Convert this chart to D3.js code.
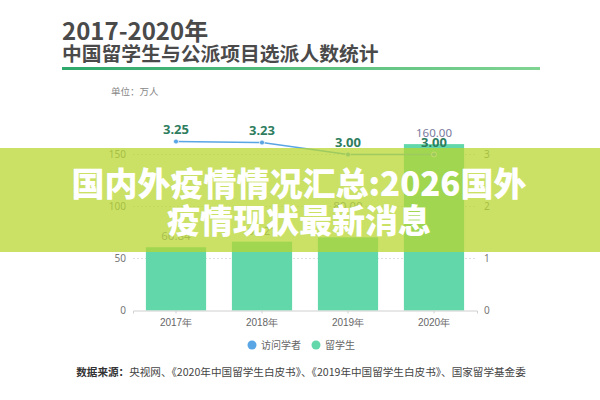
<!DOCTYPE html>
<html><head><meta charset="utf-8">
<script src="https://cdn.jsdelivr.net/npm/d3@7"></script>
<style>
html,body{margin:0;padding:0;background:#fff;}
svg{display:block;font-family:"Noto Sans CJK SC","Noto Sans",sans-serif;}
</style></head>
<body>
<svg id="c" width="600" height="400"></svg>
<script>
const categories = ["2017年","2018年","2019年","2020年"];
const students = [60.84, 66.21, 70.35, 160.00];
const studentLabels = ["60.84","66.21","80.00","160.00"];
const studentLabelAnchor = [60.84, 66.21, 90, 160];
const scholars = [3.25, 3.23, 3.00, 3.00];
const scholarLabels = ["3.25","3.23","3.00","3.00"];
const leftTicks = [0,50,100,150];
const rightTicks = [0,1,2,3];
const seriesNames = ["访问学者","留学生"];
const titleText = "2017-2020年";
const subtitleText = "中国留学生与公派项目选派人数统计";
const unitText = "单位：万人";
const sourceBold = "数据来源：";
const sourceText = "央视网、《2020年中国留学生白皮书》、《2019年中国留学生白皮书》、国家留学基金委";
const bannerLines = ["国内外疫情情况汇总:2026国外","疫情现状最新消息"];

const svg = d3.select("#c");
const barColor = "#62d7aa", lineColor = "#5aa5e4";

// header
svg.append("text").attr("x",62).attr("y",40).attr("font-size",24).attr("font-weight",700)
  .attr("fill","#4a4a4a").text(titleText);
svg.append("text").attr("x",62).attr("y",61).attr("font-size",19.8).attr("font-weight",700)
  .attr("fill","#4a4a4a").text(subtitleText);
const defs = svg.append("defs");
const g1 = defs.append("linearGradient").attr("id","gl");
g1.append("stop").attr("offset","0%").attr("stop-color","#2ea86b");
g1.append("stop").attr("offset","100%").attr("stop-color","#80d492");
svg.append("rect").attr("x",62).attr("y",67).attr("width",478).attr("height",3).attr("fill","url(#gl)");

svg.append("text").attr("x",111).attr("y",95).attr("font-size",9.5).attr("fill","#888").text(unitText);

// scales
const x = d3.scaleBand().domain(categories).range([133,477]).paddingInner(0.3).paddingOuter(0.15);
const yL = d3.scaleLinear().domain([0,200]).range([310.5,102.5]);
const yR = d3.scaleLinear().domain([0,4]).range([310.5,102.5]);

// grid
svg.append("g").selectAll("line").data(leftTicks.slice(1)).join("line")
  .attr("x1",133).attr("x2",477).attr("y1",d=>yL(d)).attr("y2",d=>yL(d))
  .attr("stroke","#e0e0e0").attr("stroke-dasharray","2,2");

// left axis
const axL = svg.append("g").attr("transform","translate(133,0)")
  .call(d3.axisLeft(yL).tickValues(leftTicks).tickFormat(d3.format("d")).tickSize(0).tickPadding(7));
axL.select(".domain").remove();
axL.selectAll("text").attr("font-size",10).attr("fill","#777").attr("font-family","'Noto Sans',sans-serif");
const axR = svg.append("g").attr("transform","translate(477,0)")
  .call(d3.axisRight(yR).tickValues(rightTicks).tickFormat(d3.format("d")).tickSize(0).tickPadding(7));
axR.select(".domain").remove();
axR.selectAll("text").attr("font-size",10).attr("fill","#777").attr("font-family","'Noto Sans',sans-serif");

// bars
svg.append("g").selectAll("rect").data(students).join("rect")
  .attr("x",(d,i)=>x(categories[i])).attr("width",x.bandwidth())
  .attr("y",d=>yL(d)).attr("height",d=>yL(0)-yL(d)).attr("fill",barColor);

// x axis
const axB = svg.append("g").attr("transform","translate(0,310.5)")
  .call(d3.axisBottom(x).tickSize(3).tickPadding(5));
axB.select(".domain").attr("stroke","#d0d0d0");
axB.selectAll(".tick line").attr("stroke","#d0d0d0");
axB.selectAll("text").attr("font-size",10).attr("fill","#666");

// bar labels
svg.append("g").selectAll("text").data(studentLabels).join("text")
  .attr("x",(d,i)=>x(categories[i])+x.bandwidth()/2).attr("y",(d,i)=>yL(studentLabelAnchor[i])-7)
  .attr("text-anchor","middle").attr("font-size",11.5).attr("fill","#7a7a9e")
  .attr("font-family","'Noto Sans',sans-serif").text(d=>d);

// line
const line = d3.line().x((d,i)=>x(categories[i])+x.bandwidth()/2).y(d=>yR(d));
svg.append("path").datum(scholars).attr("d",line).attr("fill","none").attr("stroke",lineColor).attr("stroke-width",1.5);
svg.append("g").selectAll("circle").data(scholars).join("circle")
  .attr("cx",(d,i)=>x(categories[i])+x.bandwidth()/2).attr("cy",d=>yR(d)).attr("r",2.5)
  .attr("fill",lineColor).attr("stroke","#fff").attr("stroke-width",0.8);
svg.append("g").selectAll("text").data(scholarLabels).join("text")
  .attr("x",(d,i)=>x(categories[i])+x.bandwidth()/2).attr("y",(d,i)=>yR(scholars[i])-8)
  .attr("text-anchor","middle").attr("font-size",13).attr("font-weight",700).attr("fill","#2e7d5e")
  .attr("font-family","'Noto Sans',sans-serif").text(d=>d);

// legend
const leg = svg.append("g");
const legColors = [lineColor, barColor];
const legX = [252, 316];
seriesNames.forEach((n,i)=>{
  leg.append("circle").attr("cx",legX[i]).attr("cy",345).attr("r",4.5).attr("fill",legColors[i]);
  leg.append("text").attr("x",legX[i]+9).attr("y",348.5).attr("font-size",10).attr("fill","#666").text(n);
});

// source
const src = svg.append("text").attr("x",301).attr("y",376).attr("text-anchor","middle").attr("font-size",10.6).attr("fill","#444");
src.append("tspan").attr("font-weight",700).attr("fill","#333").text(sourceBold);
src.append("tspan").text(sourceText);

// banner overlay
svg.append("rect").attr("x",0).attr("y",148).attr("width",600).attr("height",104)
  .attr("fill","rgb(184,214,48)").attr("opacity",0.74);
svg.append("g").selectAll("text").data(bannerLines).join("text")
  .attr("x",299).attr("y",(d,i)=>196+i*37).attr("text-anchor","middle")
  .attr("font-size",33).attr("font-weight",900).attr("fill","#fff").text(d=>d);
</script>
</body></html>
